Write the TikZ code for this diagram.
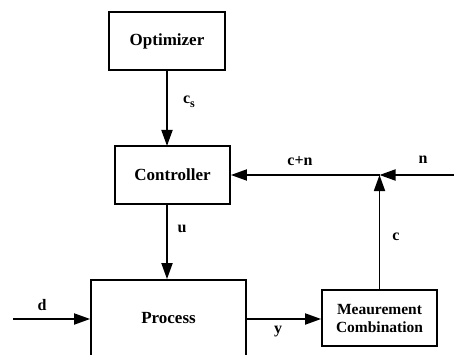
\documentclass[tikz,border=0pt]{standalone}
\usepackage{fontspec}
\setmainfont{Liberation Serif}
\usetikzlibrary{arrows.meta}
\begin{document}
\begin{tikzpicture}[x=1pt,y=-1pt,
  blk/.style={draw,line width=1.8pt,rectangle,inner sep=0pt,font=\fontsize{17}{19}\selectfont\bfseries,align=center},
  conn/.style={line width=1.8pt,-{Triangle[length=16pt,width=11pt]}},
  lbl/.style={font=\fontsize{16}{18}\selectfont\bfseries,inner sep=0pt}]
\useasboundingbox (0,0) rectangle (454,355);
\clip (0,0) rectangle (454,355);
\node[blk,minimum width=116pt,minimum height=58pt] (opt) at (167,41) {Optimizer};
\node[blk,minimum width=115pt,minimum height=58pt] (ctrl) at (172.5,175) {Controller};
\node[blk,minimum width=155pt,minimum height=76pt] (proc) at (168.5,318) {Process};
\node[blk,minimum width=115pt,minimum height=56pt,font=\fontsize{15.5}{18}\selectfont\bfseries] (meas) at (379.5,318) {Meaurement\\Combination};
\coordinate (j) at (379.5,175);
\coordinate (nin) at (455,175);
\coordinate (din) at (13,319);
\draw[conn] (opt.south -| 167,0) -- (167,146);
\draw[conn] (167,204) -- (proc.north -| 167,0);
\draw[conn] (din) -- (proc.west |- din);
\draw[conn] (proc.east |- din) -- (meas.west |- din);
\draw[conn] (meas.north) -- (j);
\draw[conn] (nin) -- (j);
\draw[conn] (j) -- (ctrl.east);
\node[lbl] (lcs) at (189,102) {c\raisebox{-0.5ex}{\fontsize{12}{13}\selectfont s}};
\node[lbl] (lu) at (182,229) {u};
\node[lbl] (lc) at (396,237) {c};
\node[lbl] (ln) at (423,160) {n};
\node[lbl] (lcn) at (300,161) {c+n};
\node[lbl] (ld) at (42,305) {d};
\node[lbl] (ly) at (278,332) {y};
\end{tikzpicture}
\end{document}
